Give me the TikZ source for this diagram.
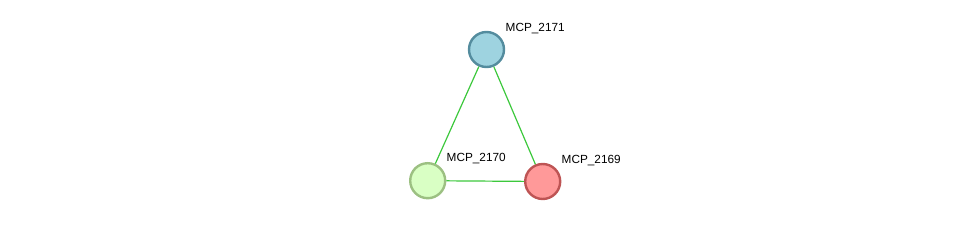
\documentclass[tikz,border=0pt]{standalone}
\usepackage{fontspec}
\setmainfont{Liberation Sans}
\definecolor{bfill}{RGB}{158,211,224}
\definecolor{bline}{RGB}{84,140,158}
\definecolor{gfill}{RGB}{217,255,196}
\definecolor{gline}{RGB}{156,192,130}
\definecolor{rfill}{RGB}{255,153,153}
\definecolor{rline}{RGB}{190,84,84}
\definecolor{edge}{RGB}{60,200,60}
\begin{document}
\begin{tikzpicture}[x=1pt,y=-1pt,
  prot/.style={circle,minimum size=35pt,inner sep=0pt,line width=2.4pt},
  lab/.style={font=\fontsize{11.8}{14}\selectfont,anchor=west,inner sep=0pt},
  link/.style={draw=edge,line width=1.2pt}]
\useasboundingbox (0,0) rectangle (975,227);
\node[prot,fill=bfill,draw=bline] (a) at (486.5,49.5) {};
\node[prot,fill=gfill,draw=gline] (b) at (427.7,180.7) {};
\node[prot,fill=rfill,draw=rline] (c) at (542.7,181.5) {};
\draw[link] (a) -- (b);
\draw[link] (a) -- (c);
\draw[link] (b) -- (c);
\node[lab] (la) at (505.5,28.5) {MCP\_2171};
\node[lab] (lb) at (446.5,159) {MCP\_2170};
\node[lab] (lc) at (561.5,160.5) {MCP\_2169};
\end{tikzpicture}
\end{document}
